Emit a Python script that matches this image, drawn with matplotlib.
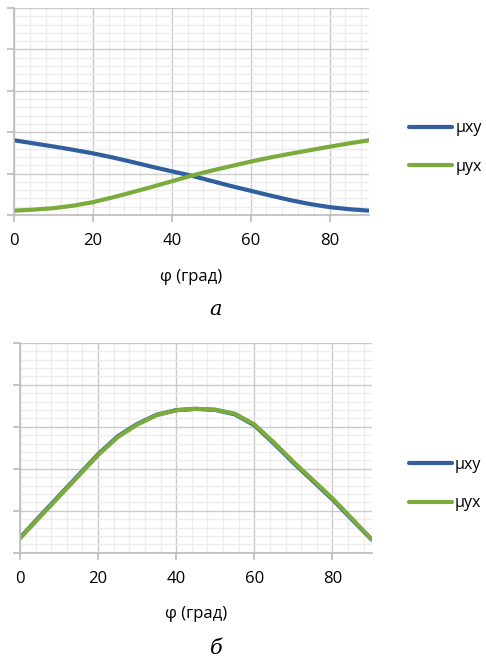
import matplotlib
matplotlib.use("Agg")
import matplotlib.pyplot as plt
import numpy as np
from matplotlib.ticker import MultipleLocator

plt.rcParams['font.family'] = ['Open Sans', 'DejaVu Sans']

# angle, degrees
phi = [0, 5, 10, 15, 20, 25, 30, 35, 40, 45, 50, 55, 60, 65, 70, 75, 80, 85, 90]

# chart a
mu_xy_a = [0.361, 0.346, 0.331, 0.315, 0.298, 0.278, 0.256, 0.233, 0.211, 0.190,
           0.165, 0.140, 0.117, 0.094, 0.072, 0.053, 0.038, 0.028, 0.021]
mu_yx_a = [0.021, 0.026, 0.033, 0.045, 0.062, 0.085, 0.110, 0.136, 0.163, 0.190,
           0.214, 0.236, 0.258, 0.278, 0.296, 0.313, 0.330, 0.346, 0.361]

# chart b
mu_yx_b = [0.069, 0.168, 0.267, 0.366, 0.465, 0.550, 0.610, 0.655, 0.678, 0.685,
           0.681, 0.662, 0.611, 0.525, 0.433, 0.346, 0.259, 0.162, 0.065]
mu_xy_b = [0.071, 0.172, 0.271, 0.370, 0.469, 0.554, 0.613, 0.657, 0.679, 0.685,
           0.680, 0.659, 0.607, 0.520, 0.428, 0.341, 0.254, 0.158, 0.063]

xticks = [0, 20, 40, 60, 80]
labels = ['μxy', 'μyx']
blue = '#2f5f9f'
green = '#7cab3d'

fig = plt.figure(figsize=(4.86, 6.59), dpi=100)
ax1 = fig.add_axes([14 / 486, 1 - 215 / 659, 355 / 486, 207 / 659])
ax2 = fig.add_axes([20 / 486, 1 - 552.7 / 659, 351.5 / 486, 210 / 659])

def style(ax):
    ax.set_xlim(0, 90)
    ax.set_ylim(0, 1)
    ax.xaxis.set_major_locator(MultipleLocator(20))
    ax.xaxis.set_minor_locator(MultipleLocator(4))
    ax.yaxis.set_major_locator(MultipleLocator(0.2))
    ax.yaxis.set_minor_locator(MultipleLocator(0.04))
    ax.grid(which='minor', color='#ececec', linewidth=1.0)
    ax.grid(which='major', color='#cbcbcb', linewidth=1.0)
    ax.set_axisbelow(True)
    for s in ['top', 'right']:
        ax.spines[s].set_visible(False)
    for s in ['left', 'bottom']:
        ax.spines[s].set_color('#bcbcbc')
        ax.spines[s].set_linewidth(1.2)
    ax.set_xticks(xticks)
    ax.set_yticklabels([])
    ax.tick_params(which='major', length=5, color='#bcbcbc', width=1.2,
                   labelsize=12, pad=8)
    ax.tick_params(which='minor', length=0)

for ax, b, g, lp, bx in [(ax1, mu_xy_a, mu_yx_a, 14, 1.072),
                         (ax2, mu_xy_b, mu_yx_b, 14, 1.065)]:
    style(ax)
    ax.set_xlabel('φ (град)', fontsize=12, labelpad=lp)
    ax.plot(phi, b, color=blue, linewidth=3, label=labels[0], solid_capstyle='round')
    ax.plot(phi, g, color=green, linewidth=3, label=labels[1], solid_capstyle='round')
    ax.legend(loc='center left', bbox_to_anchor=(bx, 0.326), frameon=False,
              fontsize=11.5, handlelength=2.7, handletextpad=0.2, labelspacing=1.4)

fig.text(216 / 486, 1 - 310 / 659, 'а', fontsize=15, family='DejaVu Serif',
         style='italic', ha='center', va='center')
fig.text(216 / 486, 1 - 648 / 659, 'б', fontsize=15, family='DejaVu Serif',
         style='italic', ha='center', va='center')

fig.savefig('out.png', dpi=100)
